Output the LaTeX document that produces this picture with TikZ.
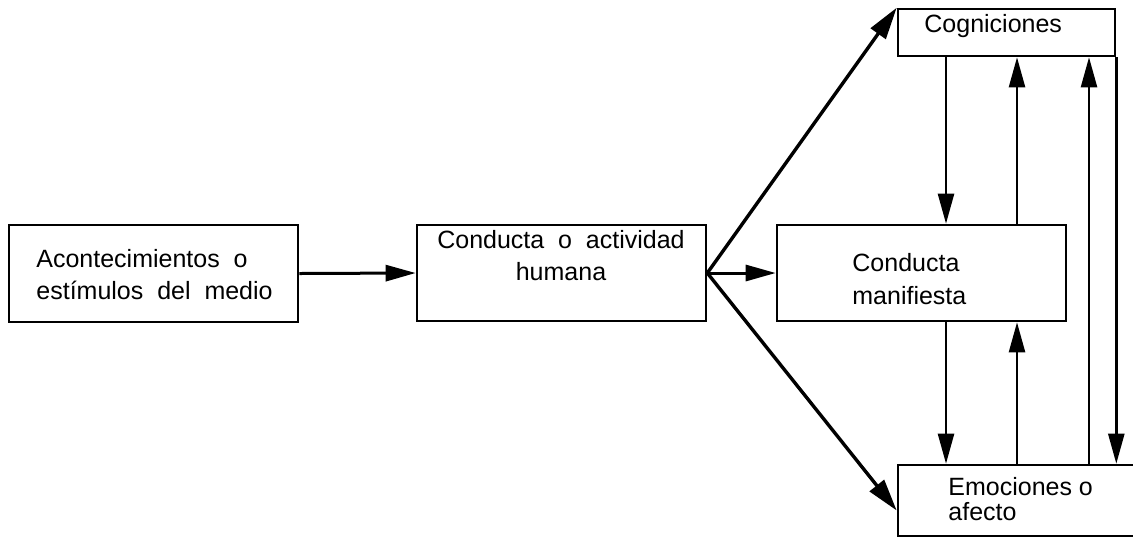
\documentclass[tikz,border=0pt]{standalone}
\usepackage{fontspec}
\setmainfont{Liberation Sans}
\usetikzlibrary{arrows.meta}

\begin{document}
\begin{tikzpicture}[x=0.5pt, y=-0.5pt,
        caja/.style={draw, line width=1.3pt, inner sep=0pt},
        flecha/.style={line width=1.2pt, -{Triangle[length=15pt, width=8pt]}},
        diagonal/.style={line width=1.7pt, -{Triangle[length=16pt, width=9pt]}},
        texto/.style={inner sep=0pt, font=\fontsize{12.5}{16}\selectfont}]
        \useasboundingbox (0,0) rectangle (1133,537);
        \clip (0,0) rectangle (1133,537);

        % Cajas
        \node[caja, minimum width=144.5pt, minimum height=48.5pt] (acont) at (153.5,273.5) {};
        \node[caja, minimum width=144.5pt, minimum height=48pt] (conducta) at (561.5,273) {};
        \node[caja, minimum width=144.5pt, minimum height=48pt] (manif) at (921.5,273) {};
        \node[caja, minimum width=108.5pt, minimum height=23.5pt] (cogn) at (1006.5,32.5) {};
        \node[caja, minimum width=131pt, minimum height=35.5pt] (emoc) at (1029,500.5) {};

        % Textos (anclados en la linea base de la ultima linea)
        \node[texto, align=left, anchor=base west] (acontTxt) at (36,299) {Acontecimientos\ \ o\\estímulos\ \ del\ \ medio};
        \node[texto, align=center, anchor=base] (conductaTxt) at (561,280) {Conducta\ \ o\ \ actividad\\humana};
        \node[texto, align=left, anchor=base west, font=\fontsize{12.5}{16.5}\selectfont] (manifTxt) at (852,304) {Conducta\\manifiesta};
        \node[texto, anchor=base west] (cognTxt) at (924,32) {Cogniciones};
        \node[texto, align=left, anchor=base west, font=\fontsize{12.5}{12.5}\selectfont] (emocTxt) at (948,520) {Emociones o\\afecto};

        % Entrada
        \draw[flecha, line width=1.5pt] (acont.east) -- (conducta.west);

        % Abanico de salida
        \coordinate (salida) at (conducta.east);
        \draw[diagonal] (salida) -- (cogn.north west);
        \draw[flecha, line width=1.5pt] (salida) -- (manif.west);
        \draw[diagonal] (salida) -- ([yshift=-5pt]emoc.west);

        % Flechas verticales
        \draw[flecha] (cogn.south -| 946,0) -- (manif.north -| 946,0);
        \draw[flecha] (manif.north -| 1017,0) -- (cogn.south -| 1017,0);
        \draw[flecha] (manif.south -| 946,0) -- (emoc.north -| 946,0);
        \draw[flecha] (emoc.north -| 1017,0) -- (manif.south -| 1017,0);
        \draw[flecha] (emoc.north -| 1089,0) -- (cogn.south -| 1089,0);
        \draw[flecha] (cogn.south east) -- (cogn.south east |- emoc.north);
\end{tikzpicture}
\end{document}
